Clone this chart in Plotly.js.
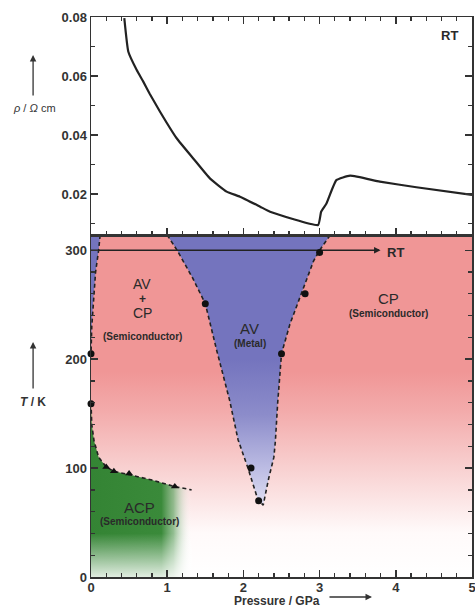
<!DOCTYPE html>
<html>
<head>
<meta charset="utf-8">
<script src="https://cdn.plot.ly/plotly-3.0.1.min.js"></script>
<style>html,body{margin:0;padding:0;background:#fff;}#chart{width:475px;height:609px;}</style>
</head>
<body>
<div id="chart"></div>
<script>
// ---- Top panel: resistivity at room temperature vs pressure ----
const rhoP   = [0.437, 0.49, 0.60, 0.686, 0.77, 0.906, 1.124, 1.35, 1.56, 1.78, 1.955, 2.22, 2.35, 2.98, 3.02, 3.09, 3.22, 3.40, 3.79, 4.27, 5.0];
const rhoVal = [0.0796, 0.0682, 0.0620, 0.0581, 0.0540, 0.0479, 0.0389, 0.0318, 0.0253, 0.0208, 0.0191, 0.0157, 0.0140, 0.0095, 0.0140, 0.0168, 0.0247, 0.0262, 0.0242, 0.0223, 0.0197];

// ---- Bottom panel: phase diagram boundaries ----
const stripP = [0.12, 0.10, 0.06, 0.03, 0.01, 0.0];
const stripT = [314, 300, 280, 255, 230, 205];
const avLeftP  = [1.0, 1.13, 1.33, 1.5, 1.65, 1.82, 1.93, 2.06, 2.19, 2.26];
const avLeftT  = [314, 300, 275, 251, 208, 162, 126, 100, 71, 66];
const avRightP = [2.26, 2.33, 2.40, 2.42, 2.45, 2.5, 2.61, 2.77, 2.92, 3.0, 3.14];
const avRightT = [66, 90, 110, 125, 160, 205, 232, 262, 290, 300, 314];
const acpP = [0.0, 0.01, 0.04, 0.10, 0.2, 0.3, 0.5, 0.8, 1.1, 1.32];
const acpT = [160, 140, 125, 110, 101, 97, 94, 89, 83, 80];
const dotP = [0, 0, 1.5, 2.1, 2.2, 2.5, 2.81, 3.0];
const dotT = [205, 159, 251, 100, 70, 205, 260, 298];
const triP = [0.2, 0.3, 0.5, 1.1];
const triT = [101, 97, 95, 83];

const Tmax = 314;
const pink = 'rgb(240,150,150)';
const blue = 'rgb(116,116,190)';
const green = 'rgb(58,138,58)';
const FONT = 'Liberation Sans, Arial, sans-serif';

const avP = avLeftP.concat(avRightP.slice(1));
const avT = avLeftT.concat(avRightT.slice(1));

const traces = [
  {x:[0,5,5,0,0], y:[0,0,Tmax,Tmax,0], xaxis:'x', yaxis:'y', mode:'lines', line:{width:0}, fill:'toself',
   fillgradient:{type:'vertical', start:0, stop:Tmax,
     colorscale:[[0,'rgb(255,255,255)'],[0.13,'rgb(255,250,250)'],[0.32,'rgb(248,208,208)'],[0.48,'rgb(243,172,172)'],[0.6,pink],[1,pink]]},
   hoverinfo:'skip', showlegend:false},
  {x:avP.concat([avP[0]]), y:avT.concat([avT[0]]), xaxis:'x', yaxis:'y', mode:'lines', line:{width:0}, fill:'toself',
   fillgradient:{type:'vertical', start:60, stop:Tmax,
     colorscale:[[0,'rgb(228,228,245)'],[0.15,'rgb(190,190,228)'],[0.35,'rgb(140,140,202)'],[0.55,blue],[1,blue]]},
   hoverinfo:'skip', showlegend:false},
  {x:[0].concat(stripP).concat([0]), y:[Tmax].concat(stripT).concat([Tmax]), xaxis:'x', yaxis:'y', mode:'lines', line:{width:0},
   fill:'toself', fillcolor:blue, hoverinfo:'skip', showlegend:false},
  {x:acpP.concat([1.32, 0, 0]), y:acpT.concat([0, 0, 160]), xaxis:'x', yaxis:'y', mode:'lines', line:{width:0}, fill:'toself',
   fillgradient:{type:'horizontal', start:0, stop:1.32,
     colorscale:[[0,'rgb(52,132,52)'],[0.7,green],[0.82,'rgba(110,170,110,0.75)'],[1,'rgba(255,255,255,0)']]},
   hoverinfo:'skip', showlegend:false},
  {x:[0,1.32,1.32,0,0], y:[0,0,40,40,0], xaxis:'x', yaxis:'y', mode:'lines', line:{width:0}, fill:'toself',
   fillgradient:{type:'vertical', start:0, stop:40, colorscale:[[0,'rgba(255,255,255,0.85)'],[1,'rgba(255,255,255,0)']]},
   hoverinfo:'skip', showlegend:false},
  {x:stripP, y:stripT, xaxis:'x', yaxis:'y', mode:'lines', line:{color:'#222', width:1.6, dash:'4px,3px'}, hoverinfo:'skip', showlegend:false},
  {x:avP, y:avT, xaxis:'x', yaxis:'y', mode:'lines', line:{color:'#222', width:1.6, dash:'4px,3px'}, hoverinfo:'skip', showlegend:false},
  {x:acpP, y:acpT, xaxis:'x', yaxis:'y', mode:'lines', line:{color:'#222', width:1.6, dash:'4px,3px'}, hoverinfo:'skip', showlegend:false},
  {x:[0, 3.78], y:[300, 300], xaxis:'x', yaxis:'y', mode:'lines', line:{color:'#222', width:1.3}, hoverinfo:'skip', showlegend:false},
  {x:dotP, y:dotT, xaxis:'x', yaxis:'y', mode:'markers', marker:{symbol:'circle', size:7, color:'#111'}, cliponaxis:false, showlegend:false},
  {x:triP, y:triT, xaxis:'x', yaxis:'y', mode:'markers', marker:{symbol:'triangle-up', size:7, color:'#111'}, showlegend:false},
  {x:rhoP, y:rhoVal, xaxis:'x2', yaxis:'y2', mode:'lines', line:{color:'#222', width:2.2, shape:'spline', smoothing:0.4}, showlegend:false}
];

const tickFont = {family:FONT, size:13, color:'#333', weight:'bold'};
const axCommon = {showgrid:false, zeroline:false, showline:true, linecolor:'#333', linewidth:1.5,
                  ticks:'inside', tickcolor:'#333', tickwidth:1.5, tickfont:tickFont, ticklabeloverflow:'allow'};
const minorT = (d) => ({dtick:d, tick0:0, ticklen:4, ticks:'inside', tickcolor:'#333', tickwidth:1.3, showgrid:false});

const ann = (x, y, text, size, bold, xref, yref) => ({x, y, xref:xref||'x', yref:yref||'y', text, showarrow:false,
  xanchor:'center', yanchor:'middle',
  font:{family:FONT, size, color:'#2a2a2a', weight: bold ? 'bold' : 'normal'}});

const annotations = [
  ann(4.71, 0.0739, 'RT', 13, true, 'x2', 'y2'),
  {x:3.80, y:300, xref:'x', yref:'y', ax:3.70, ay:300, axref:'x', ayref:'y', text:'', showarrow:true, arrowhead:2, arrowsize:1, arrowwidth:1.3, arrowcolor:'#222'},
  ann(3.99, 298, 'RT', 13, true),
  ann(0.67, 269, 'AV', 14, false),
  ann(0.67, 255.5, '+', 12, true),
  ann(0.67, 242, 'CP', 14, false),
  ann(0.67, 221, '(Semiconductor)', 10, true),
  ann(2.08, 228, 'AV', 15, false),
  ann(2.08, 214, '(Metal)', 10, true),
  ann(3.9, 256, 'CP', 15, false),
  ann(3.9, 242, '(Semiconductor)', 10, true),
  ann(0.64, 64, 'ACP', 15, false),
  ann(0.64, 51, '(Semiconductor)', 10, true),
  {x:-0.147, y:0.8375, xref:'paper', yref:'paper', xanchor:'center', yanchor:'middle', text:'<i>ρ</i> / <i>Ω</i> cm', showarrow:false, font:{family:FONT, size:11, color:'#333'}},
  {x:-0.152, y:0.932, xref:'paper', yref:'paper', ax:0, ay:42, text:'', showarrow:true, arrowhead:2, arrowsize:1, arrowwidth:1.3, arrowcolor:'#333'},
  {x:-0.152, y:0.3125, xref:'paper', yref:'paper', xanchor:'center', yanchor:'middle', text:'<i>T</i> / K', showarrow:false, font:{family:FONT, size:12, color:'#333', weight:'bold'}},
  {x:-0.152, y:0.4196, xref:'paper', yref:'paper', ax:0, ay:48, text:'', showarrow:true, arrowhead:2, arrowsize:1, arrowwidth:1.3, arrowcolor:'#333'},
  {x:0.488, y:-0.0429, xref:'paper', yref:'paper', xanchor:'center', yanchor:'middle', text:'Pressure / GPa', showarrow:false, font:{family:FONT, size:12, color:'#333', weight:'bold'}},
  {x:0.7375, y:-0.0357, xref:'paper', yref:'paper', ax:-44, ay:0, text:'', showarrow:true, arrowhead:2, arrowsize:1, arrowwidth:1.3, arrowcolor:'#333'}
];

const layout = {
  width:475, height:609,
  margin:{l:91, r:3, t:17, b:32},
  paper_bgcolor:'#fff', plot_bgcolor:'#fff',
  showlegend:false,
  xaxis: Object.assign({}, axCommon, {range:[0,5], dtick:1, tick0:0, ticklen:7, anchor:'y', mirror:true, ticklabelstandoff:-2, minor:minorT(0.2)}),
  yaxis: Object.assign({}, axCommon, {range:[0,Tmax], dtick:100, tick0:0, ticklen:7, domain:[0, 0.6107], anchor:'x', mirror:'allticks', minor:minorT(20)}),
  xaxis2: Object.assign({}, axCommon, {range:[0,5], dtick:1, tick0:0, ticklen:7, anchor:'y2', mirror:'allticks', showticklabels:false, minor:minorT(0.2)}),
  yaxis2: Object.assign({}, axCommon, {range:[0.0061,0.08], dtick:0.02, tick0:0, tickformat:'.2f', ticklen:7, domain:[0.6107, 1], anchor:'x2', mirror:'allticks', minor:minorT(0.01)}),
  annotations
};

Plotly.newPlot('chart', traces, layout, {displayModeBar:false, staticPlot:true});
</script>
</body>
</html>
